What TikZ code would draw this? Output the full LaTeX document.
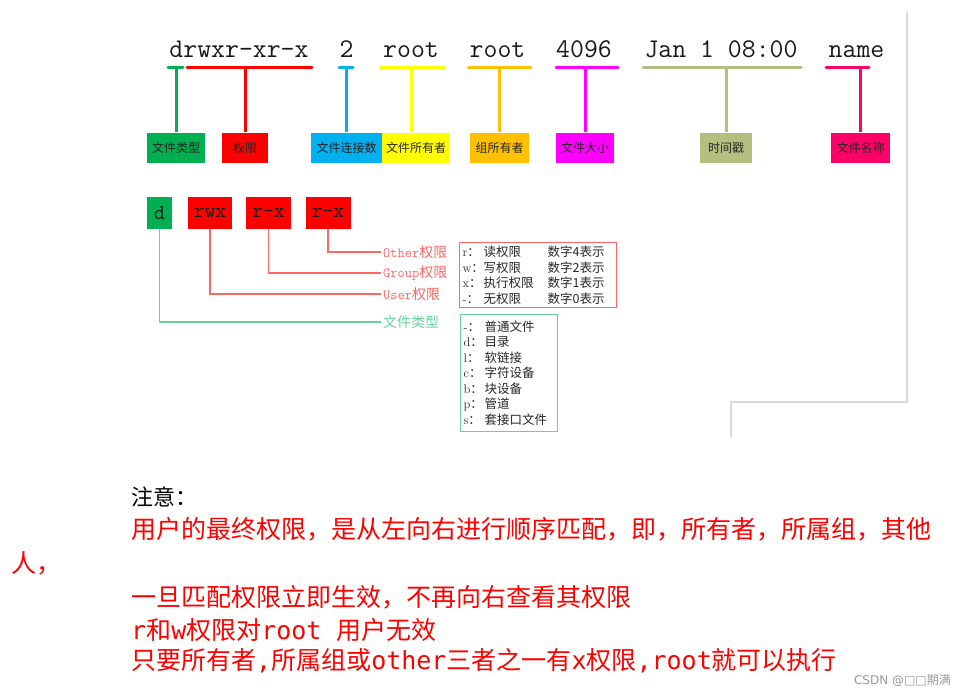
\documentclass[tikz,border=0pt]{standalone}
\usepackage{fontspec}
\usepackage{xcolor}
\usepackage{tikz}
\usetikzlibrary{calc}
\newfontfamily\cjk{Noto Sans CJK SC}
\newfontfamily\cjkmono{DejaVu Sans Mono}
\newfontfamily\djv{DejaVu Sans}
\definecolor{tgreen}{HTML}{00B050}
\definecolor{tred}{HTML}{FF0000}
\definecolor{tblue}{HTML}{00B0F0}
\definecolor{tyellow}{HTML}{FFFF00}
\definecolor{torange}{HTML}{FFC000}
\definecolor{tmagenta}{HTML}{FF00FF}
\definecolor{tolive}{HTML}{B5BF7F}
\definecolor{tpink}{HTML}{FF0066}
\definecolor{lred}{HTML}{FF6666}
\definecolor{lgreen}{HTML}{66D29C}
\definecolor{framegray}{HTML}{DADADA}
\tikzset{
  toptext/.style={font=\ttfamily\fontsize{27}{27}\selectfont, text=black!90, inner sep=0, anchor=base},
  tag/.style={minimum height=30, inner sep=0, font=\cjk\fontsize{12}{12}\selectfont, text=black!85},
  bit/.style={minimum height=32, inner sep=0, font=\ttfamily\fontsize{21}{21}\selectfont, text=black!90},
  uline/.style={line width=3, line cap=round},
  stem/.style={line width=3},
  rline/.style={lred, line width=1.5},
  gline/.style={lgreen, line width=1.5},
  sidelabel/.style={anchor=west, inner sep=2, font=\cjk\fontsize{14}{14}\selectfont},
  legend/.style={anchor=north west, inner xsep=3, inner ysep=0, line width=1.2,
    font=\cjk\fontsize{12.5}{15.5}\selectfont, text=black!85, align=left},
  note/.style={anchor=west, inner sep=0, text=tred, font=\cjk\fontsize{25}{25}\selectfont},
}
\newcommand{\lrow}[3]{\makebox[21pt][l]{{\rmfamily #1}：}\makebox[64pt][l]{#2}#3}
\newcommand{\frow}[2]{\makebox[21pt][l]{{\rmfamily #1}：}#2}

\begin{document}
\begin{tikzpicture}[x=1pt,y=-1pt]
  \useasboundingbox (0,0) rectangle (962,696);
  % frame of the screenshot
  \draw[framegray, line width=1.5] (907,12) -- (907,402) -- (731,402) -- (731,437);

  % ls -l line
  \node[toptext] (tperm) at (239,57) {drwxr-xr-x};
  \node[toptext] (tlink) at (346.5,57) {2};
  \node[toptext] (towner) at (411,57) {root};
  \node[toptext] (tgroup) at (497.5,57) {root};
  \node[toptext] (tsize) at (584,57) {4096};
  \node[toptext] (ttime) at (721,57) {Jan 1 08:00};
  \node[toptext] (tname) at (856.5,57) {name};
  \coordinate (ul) at (0,67);

  \draw[uline,tgreen] (168,67) -- (183,67);
  \draw[uline,tred] (187,67) -- (312,67);
  \draw[uline,tblue] (339,67) -- (353,67);
  \draw[uline,tyellow] (380,67) -- (445,67);
  \draw[uline,torange] (468,67) -- (531,67);
  \draw[uline,tmagenta] (556,67) -- (618,67);
  \draw[uline,tolive] (643,67) -- (801,67);
  \draw[uline,tpink] (826,67) -- (869,67);

  % meaning of each field
  \node[tag, fill=tgreen, minimum width=58] (ftype) at (176,147.5) {文件类型};
  \node[tag, fill=tred, minimum width=46] (fperm) at (245,147.5) {权限};
  \node[tag, fill=tblue, minimum width=71] (flink) at (346.5,147.5) {文件连接数};
  \node[tag, fill=tyellow, minimum width=68] (fowner) at (416,147.5) {文件所有者};
  \node[tag, fill=torange, minimum width=59] (fgroup) at (499.5,147.5) {组所有者};
  \node[tag, fill=tmagenta, minimum width=58] (fsize) at (585,147.5) {文件大小};
  \node[tag, fill=tolive, minimum width=52] (ftime) at (726,147.5) {时间戳};
  \node[tag, fill=tpink, minimum width=59] (fname) at (860.5,147.5) {文件名称};

  \draw[stem,tgreen] (ftype.north) -- (ftype.north |- ul);
  \draw[stem,tred] (fperm.north) -- (fperm.north |- ul);
  \draw[stem,tblue] (flink.north) -- (flink.north |- ul);
  \draw[stem,tyellow] ([xshift=-5]fowner.north) -- ([xshift=-5]fowner.north |- ul);
  \draw[stem,torange] (fgroup.north) -- (fgroup.north |- ul);
  \draw[stem,tmagenta] (fsize.north) -- (fsize.north |- ul);
  \draw[stem,tolive] (ftime.north) -- (ftime.north |- ul);
  \draw[stem,tpink] (fname.north) -- (fname.north |- ul);

  % the permission string split up
  \node[bit, fill=tgreen, minimum width=25] (bd) at (159.5,213) {d};
  \node[bit, fill=tred, minimum width=44] (bu) at (210,213) {rwx};
  \node[bit, fill=tred, minimum width=45] (bg) at (268.5,213) {r-x};
  \node[bit, fill=tred, minimum width=45] (bo) at (328,213) {r-x};

  \node[sidelabel, text=lred] (lo) at (381,252) {{\ttfamily Other}权限};
  \node[sidelabel, text=lred] (lg) at (381,273) {{\ttfamily Group}权限};
  \node[sidelabel, text=lred] (lu) at (381,294) {{\ttfamily User}权限};
  \node[sidelabel, text=lgreen] (lt) at (381,322) {文件类型};

  \draw[rline] (bo.south) |- (lo.west);
  \draw[rline] (bg.south) |- (lg.west);
  \draw[rline] (bu.south) |- (lu.west);
  \draw[gline] (bd.south) |- (lt.west);

  \node[legend, draw=lred, minimum width=157, minimum height=65, text width=151] (perms) at (459,242)
    {\lrow{r}{读权限}{数字4表示}\\
     \lrow{w}{写权限}{数字2表示}\\
     \lrow{x}{执行权限}{数字1表示}\\
     \lrow{-}{无权限}{数字0表示}};
  \node[legend, draw=lgreen, minimum width=97, minimum height=117, text width=91] (types) at (460,314)
    {\frow{-}{普通文件}\\
     \frow{d}{目录}\\
     \frow{l}{软链接}\\
     \frow{c}{字符设备}\\
     \frow{b}{块设备}\\
     \frow{p}{管道}\\
     \frow{s}{套接口文件}};

  % notes
  \node[note, text=black, font=\cjk\fontsize{22}{22}\selectfont] (n0) at (131,497) {注意：};
  \node[note] (n1) at (131,529) {用户的最终权限，是从左向右进行顺序匹配，即，所有者，所属组，其他};
  \node[note] (n1b) at (11,563) {人，};
  \node[note] (n2) at (131,597) {一旦匹配权限立即生效，不再向右查看其权限};
  \node[note] (n3) at (131,630) {{\cjkmono r}和{\cjkmono w}权限对{\cjkmono root }用户无效};
  \node[note] (n4) at (131,661) {只要所有者{\cjkmono ,}所属组或{\cjkmono other}三者之一有{\cjkmono x}权限{\cjkmono ,root}就可以执行};

  \node[anchor=east, inner sep=0, text=black!40, font=\djv\fontsize{12}{12}\selectfont] (mark) at (951,680)
    {CSDN @□□{\cjk 期满}};
\end{tikzpicture}
\end{document}
